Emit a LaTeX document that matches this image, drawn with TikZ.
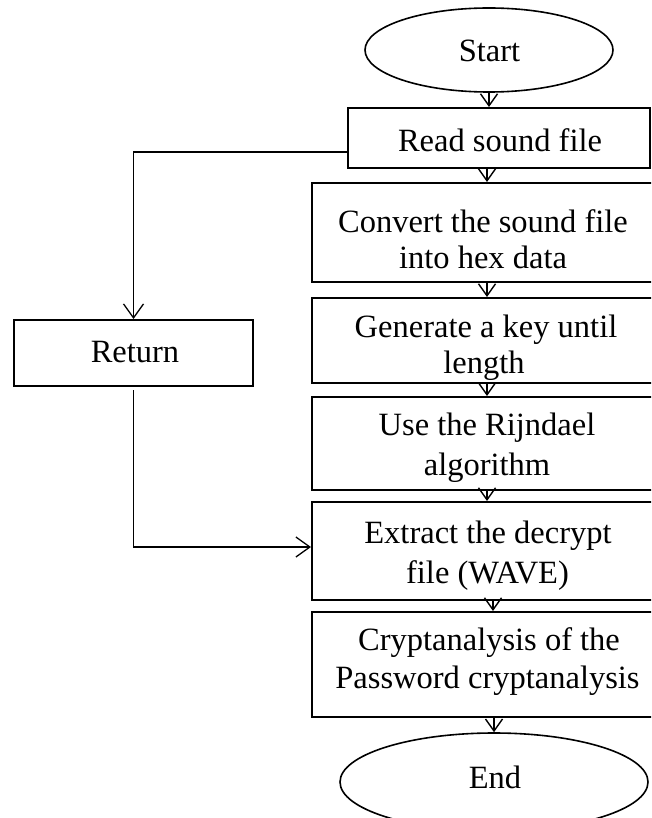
\documentclass[tikz,border=0pt]{standalone}
\usepackage{fontspec}
\setmainfont{Liberation Serif}
\usetikzlibrary{arrows.meta,shapes.geometric}
\begin{document}
\begin{tikzpicture}[x=1pt,y=-1pt,
  box/.style={draw, line width=2pt, rectangle, inner sep=0pt},
  oval/.style={draw, line width=1.6pt, ellipse, inner sep=0pt},
  txt/.style={anchor=base, inner sep=0pt, font=\fontsize{32.5}{38}\selectfont},
  smallarrow/.style={line width=1.4pt, -{Straight Barb[length=12pt,width=17pt,line width=1.4pt]}},
  bigarrow/.style={line width=1.3pt, -{Straight Barb[length=14pt,width=20pt,line width=1.3pt]}}
]
\useasboundingbox (0,0) rectangle (651,818);
\clip (0,0) rectangle (651,818);

% shapes
\node[oval, minimum width=248pt, minimum height=84pt] (start) at (489,50) {};
\node[box, minimum width=302pt, minimum height=60pt] (read) at (499,138) {};
\node[box, minimum width=350pt, minimum height=99pt] (conv) at (487,232.5) {};
\node[box, minimum width=350pt, minimum height=85pt] (gen) at (487,340.5) {};
\node[box, minimum width=350pt, minimum height=93pt] (use) at (487,443.5) {};
\node[box, minimum width=350pt, minimum height=98pt] (ext) at (487,551) {};
\node[box, minimum width=350pt, minimum height=105pt] (cry) at (487,664.5) {};
\node[oval, minimum width=308pt, minimum height=98pt] (endn) at (494,782) {};
\node[box, minimum width=239pt, minimum height=66pt] (ret) at (133.5,353) {};

% texts
\node[txt] (tstart) at (489.5,62) {Start};
\node[txt] (tread) at (500,152) {Read sound file};
\node[txt] (tconv1) at (483,233) {Convert the sound file};
\node[txt] (tconv2) at (483,268) {into hex data};
\node[txt] (tgen1) at (486,337) {Generate a key until};
\node[txt] (tgen2) at (484,373) {length};
\node[txt] (tuse1) at (487,435) {Use the Rijndael};
\node[txt] (tuse2) at (487,475) {algorithm};
\node[txt] (text1) at (488,543) {Extract the decrypt};
\node[txt] (text2) at (487.5,583) {file (WAVE)};
\node[txt] (tcry1) at (489,650) {Cryptanalysis of the};
\node[txt] (tcry2) at (487.5,688) {Password cryptanalysis};
\node[txt] (tend) at (495,788) {End};
\node[txt] (tret) at (135,362) {Return};

% connectors
\draw[smallarrow] (start.south) -- (start.south |- read.north);
\draw[smallarrow] (conv.north |- read.south) -- (conv.north);
\draw[smallarrow] (conv.south) -- (gen.north);
\draw[smallarrow] (gen.south) -- (use.north);
\draw[smallarrow] (use.south) -- (ext.north);
\draw[smallarrow] ([xshift=6pt]ext.south) -- ([xshift=6pt]cry.north);
\draw[smallarrow] (endn.north |- cry.south) -- (endn.north);

\draw[bigarrow] ([yshift=-14pt]read.west) -| (ret.north);
\draw[bigarrow] ([yshift=-3pt]ret.south) |- ([yshift=4pt]ext.west);
\end{tikzpicture}
\end{document}
